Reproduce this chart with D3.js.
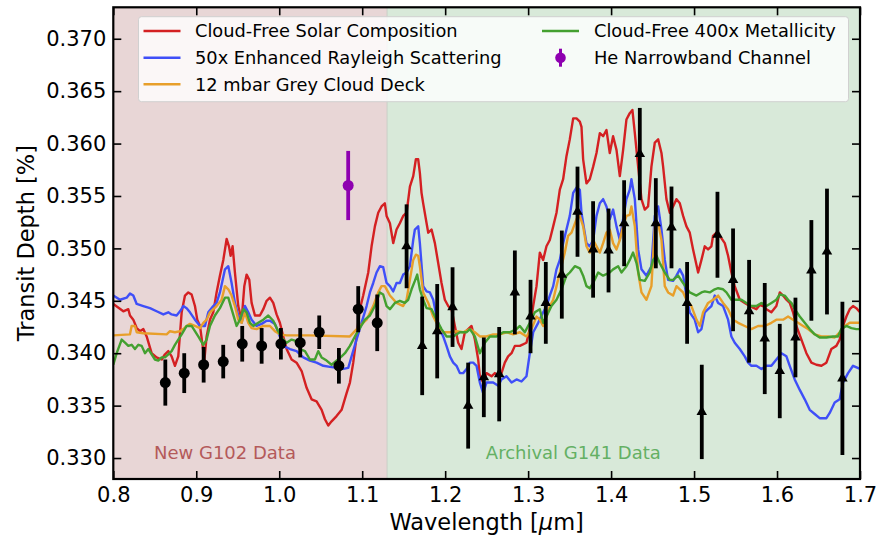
<!DOCTYPE html>
<html><head><meta charset="utf-8">
<script src="https://cdn.jsdelivr.net/npm/d3@7"></script>
<style>body{margin:0;background:#fff}svg{display:block}</style>
</head><body>
<svg id="chart" width="881" height="540"></svg>
<script>
// ---------------- DATA ----------------
const xTicks = [0.8, 0.9, 1.0, 1.1, 1.2, 1.3, 1.4, 1.5, 1.6, 1.7];
const yTicks = [0.330, 0.335, 0.340, 0.345, 0.350, 0.355, 0.360, 0.365, 0.370];

const g102Wave  = [0.8627, 0.8855, 0.9089, 0.9325, 0.9554, 0.9788, 1.0020, 1.0253, 1.0482, 1.0719, 1.0952, 1.1181];
const g102Depth = [0.3372, 0.3381, 0.3389, 0.3392, 0.3409, 0.3407, 0.3409, 0.3410, 0.3420, 0.3388, 0.3442, 0.3429];
const g102Err   = [0.0022, 0.0019, 0.0017, 0.0016, 0.0017, 0.0017, 0.0015, 0.0014, 0.0016, 0.0017, 0.0022, 0.0027];

const g141Wave  = [1.1535,1.1723,1.1904,1.2089,1.2277,1.2466,1.2651,1.2840,1.3029,1.3213,1.3406,1.3595,1.3783,1.3969,1.4157,1.4346,1.4539,1.4728,1.4916,1.5093,1.5282,1.5470,1.5663,1.5852,1.6033,1.6222,1.6414,1.6602,1.6788];
const g141Depth = [0.3502,0.3407,0.3421,0.3444,0.3350,0.3377,0.3380,0.3458,0.3435,0.3448,0.3475,0.3535,0.3499,0.3498,0.3524,0.3590,0.3524,0.3520,0.3448,0.3344,0.3513,0.3470,0.3440,0.3414,0.3383,0.3415,0.3479,0.3497,0.3376];
const g141Err   = [0.0040,0.0047,0.0045,0.0038,0.0041,0.0038,0.0045,0.0040,0.0035,0.0039,0.0042,0.0043,0.0046,0.0040,0.0041,0.0044,0.0043,0.0039,0.0039,0.0045,0.0041,0.0049,0.0049,0.0053,0.0045,0.0038,0.0048,0.0060,0.0073];

const heWave = [1.0831], heDepth = [0.3560], heErr = [0.0033];

const solarModel = [[0.8000,0.3447],[0.8121,0.3440],[0.8181,0.3442],[0.8201,0.3436],[0.8241,0.3432],[0.8282,0.3424],[0.8322,0.3421],[0.8362,0.3423],[0.8402,0.3416],[0.8462,0.3400],[0.8522,0.3396],[0.8583,0.3394],[0.8623,0.3399],[0.8663,0.3402],[0.8703,0.3397],[0.8743,0.3388],[0.8783,0.3397],[0.8824,0.3439],[0.8864,0.3455],[0.8904,0.3458],[0.8944,0.3456],[0.8984,0.3445],[0.9012,0.3432],[0.9045,0.3426],[0.9077,0.3407],[0.9097,0.3393],[0.9125,0.3416],[0.9165,0.3432],[0.9205,0.3439],[0.9245,0.3458],[0.9285,0.3474],[0.9326,0.3489],[0.9366,0.3509],[0.9394,0.3502],[0.9414,0.3493],[0.9438,0.3502],[0.9466,0.3477],[0.9506,0.3445],[0.9547,0.3432],[0.9579,0.3464],[0.9607,0.3475],[0.9639,0.3470],[0.9667,0.3448],[0.9707,0.3436],[0.9767,0.3436],[0.9808,0.3442],[0.9848,0.3450],[0.9888,0.3453],[0.9928,0.3448],[0.9968,0.3437],[1.0008,0.3429],[1.0049,0.3416],[1.0089,0.3404],[1.0149,0.3394],[1.0209,0.3391],[1.0270,0.3383],[1.0330,0.3367],[1.0390,0.3356],[1.0450,0.3354],[1.0511,0.3346],[1.0551,0.3337],[1.0591,0.3331],[1.0631,0.3335],[1.0691,0.3340],[1.0752,0.3346],[1.0812,0.3362],[1.0852,0.3372],[1.0892,0.3391],[1.0932,0.3416],[1.0972,0.3442],[1.1012,0.3455],[1.1073,0.3477],[1.1113,0.3502],[1.1153,0.3521],[1.1193,0.3534],[1.1233,0.3540],[1.1273,0.3543],[1.1294,0.3531],[1.1334,0.3524],[1.1374,0.3505],[1.1414,0.3518],[1.1454,0.3524],[1.1494,0.3531],[1.1535,0.3534],[1.1575,0.3559],[1.1615,0.3569],[1.1647,0.3585],[1.1675,0.3585],[1.1695,0.3572],[1.1715,0.3553],[1.1735,0.3543],[1.1776,0.3524],[1.1796,0.3515],[1.1836,0.3518],[1.1876,0.3505],[1.1916,0.3486],[1.1956,0.3467],[1.1996,0.3451],[1.2037,0.3445],[1.2077,0.3442],[1.2117,0.3426],[1.2157,0.3410],[1.2197,0.3404],[1.2237,0.3420],[1.2278,0.3423],[1.2318,0.3426],[1.2358,0.3413],[1.2398,0.3394],[1.2418,0.3378],[1.2458,0.3372],[1.2498,0.3381],[1.2559,0.3378],[1.2599,0.3381],[1.2639,0.3378],[1.2679,0.3381],[1.2719,0.3391],[1.2759,0.3397],[1.2800,0.3400],[1.2840,0.3407],[1.2900,0.3407],[1.2980,0.3410],[1.3020,0.3423],[1.3061,0.3445],[1.3101,0.3464],[1.3141,0.3496],[1.3181,0.3489],[1.3221,0.3502],[1.3261,0.3508],[1.3302,0.3521],[1.3342,0.3534],[1.3382,0.3556],[1.3422,0.3566],[1.3462,0.3588],[1.3502,0.3604],[1.3543,0.3624],[1.3583,0.3624],[1.3623,0.3621],[1.3643,0.3616],[1.3663,0.3585],[1.3703,0.3562],[1.3743,0.3566],[1.3784,0.3578],[1.3824,0.3591],[1.3864,0.3610],[1.3904,0.3607],[1.3944,0.3613],[1.3984,0.3591],[1.4024,0.3607],[1.4065,0.3594],[1.4105,0.3569],[1.4145,0.3594],[1.4185,0.3623],[1.4225,0.3629],[1.4257,0.3632],[1.4286,0.3610],[1.4326,0.3578],[1.4366,0.3547],[1.4406,0.3537],[1.4446,0.3540],[1.4486,0.3578],[1.4527,0.3601],[1.4567,0.3604],[1.4607,0.3591],[1.4627,0.3578],[1.4667,0.3547],[1.4707,0.3534],[1.4747,0.3540],[1.4788,0.3547],[1.4828,0.3543],[1.4868,0.3531],[1.4908,0.3521],[1.4948,0.3515],[1.4988,0.3499],[1.5049,0.3477],[1.5089,0.3489],[1.5129,0.3502],[1.5169,0.3499],[1.5209,0.3502],[1.5229,0.3512],[1.5270,0.3515],[1.5310,0.3512],[1.5370,0.3505],[1.5410,0.3493],[1.5450,0.3477],[1.5490,0.3464],[1.5551,0.3451],[1.5611,0.3448],[1.5671,0.3445],[1.5751,0.3442],[1.5792,0.3446],[1.5832,0.3445],[1.5872,0.3442],[1.5932,0.3439],[1.5992,0.3445],[1.6033,0.3458],[1.6073,0.3455],[1.6113,0.3451],[1.6153,0.3448],[1.6193,0.3439],[1.6233,0.3426],[1.6294,0.3413],[1.6354,0.3400],[1.6414,0.3391],[1.6474,0.3389],[1.6535,0.3388],[1.6595,0.3391],[1.6655,0.3404],[1.6715,0.3407],[1.6755,0.3413],[1.6795,0.3426],[1.6836,0.3435],[1.6876,0.3442],[1.6916,0.3445],[1.6956,0.3443],[1.7000,0.3439]];

const rayleighModel = [[0.8000,0.3455],[0.8081,0.3451],[0.8161,0.3453],[0.8201,0.3457],[0.8241,0.3455],[0.8282,0.3447],[0.8362,0.3445],[0.8442,0.3443],[0.8522,0.3440],[0.8603,0.3437],[0.8663,0.3439],[0.8703,0.3437],[0.8763,0.3436],[0.8804,0.3440],[0.8844,0.3445],[0.8884,0.3443],[0.8924,0.3439],[0.8984,0.3432],[0.9045,0.3426],[0.9105,0.3426],[0.9145,0.3439],[0.9205,0.3445],[0.9245,0.3448],[0.9285,0.3458],[0.9346,0.3480],[0.9386,0.3483],[0.9426,0.3467],[0.9466,0.3448],[0.9506,0.3436],[0.9547,0.3429],[0.9587,0.3445],[0.9627,0.3439],[0.9667,0.3432],[0.9727,0.3426],[0.9788,0.3428],[0.9848,0.3431],[0.9888,0.3431],[0.9948,0.3428],[0.9988,0.3420],[1.0049,0.3407],[1.0129,0.3404],[1.0209,0.3402],[1.0290,0.3396],[1.0370,0.3393],[1.0450,0.3391],[1.0531,0.3388],[1.0611,0.3387],[1.0691,0.3386],[1.0772,0.3385],[1.0832,0.3386],[1.0872,0.3397],[1.0932,0.3413],[1.0992,0.3429],[1.1053,0.3445],[1.1093,0.3458],[1.1133,0.3467],[1.1173,0.3477],[1.1213,0.3483],[1.1253,0.3482],[1.1294,0.3467],[1.1334,0.3464],[1.1374,0.3459],[1.1414,0.3467],[1.1454,0.3467],[1.1494,0.3475],[1.1535,0.3477],[1.1575,0.3483],[1.1615,0.3508],[1.1635,0.3518],[1.1675,0.3521],[1.1695,0.3505],[1.1735,0.3464],[1.1776,0.3459],[1.1816,0.3458],[1.1856,0.3451],[1.1896,0.3435],[1.1936,0.3423],[1.1976,0.3416],[1.2016,0.3407],[1.2057,0.3397],[1.2097,0.3391],[1.2137,0.3388],[1.2177,0.3381],[1.2217,0.3381],[1.2258,0.3385],[1.2298,0.3391],[1.2338,0.3391],[1.2378,0.3388],[1.2418,0.3372],[1.2458,0.3362],[1.2498,0.3372],[1.2579,0.3372],[1.2639,0.3369],[1.2679,0.3375],[1.2739,0.3378],[1.2800,0.3372],[1.2860,0.3375],[1.2920,0.3373],[1.2980,0.3378],[1.3020,0.3400],[1.3061,0.3420],[1.3121,0.3429],[1.3181,0.3439],[1.3221,0.3445],[1.3261,0.3455],[1.3302,0.3464],[1.3342,0.3480],[1.3382,0.3489],[1.3422,0.3505],[1.3462,0.3518],[1.3502,0.3531],[1.3543,0.3553],[1.3583,0.3558],[1.3623,0.3556],[1.3643,0.3534],[1.3663,0.3524],[1.3703,0.3505],[1.3743,0.3502],[1.3784,0.3508],[1.3824,0.3531],[1.3864,0.3543],[1.3904,0.3547],[1.3944,0.3540],[1.3984,0.3528],[1.4024,0.3537],[1.4065,0.3521],[1.4105,0.3508],[1.4145,0.3528],[1.4185,0.3547],[1.4225,0.3556],[1.4245,0.3566],[1.4286,0.3547],[1.4326,0.3499],[1.4366,0.3480],[1.4426,0.3474],[1.4486,0.3483],[1.4527,0.3531],[1.4567,0.3540],[1.4607,0.3518],[1.4647,0.3489],[1.4687,0.3470],[1.4747,0.3469],[1.4788,0.3474],[1.4828,0.3480],[1.4868,0.3474],[1.4908,0.3455],[1.4948,0.3439],[1.5008,0.3432],[1.5049,0.3420],[1.5089,0.3423],[1.5129,0.3439],[1.5169,0.3442],[1.5209,0.3445],[1.5249,0.3455],[1.5290,0.3448],[1.5350,0.3445],[1.5410,0.3432],[1.5450,0.3416],[1.5490,0.3410],[1.5551,0.3404],[1.5611,0.3397],[1.5651,0.3391],[1.5691,0.3388],[1.5751,0.3388],[1.5812,0.3385],[1.5872,0.3388],[1.5932,0.3388],[1.5992,0.3394],[1.6053,0.3400],[1.6113,0.3397],[1.6153,0.3388],[1.6213,0.3375],[1.6274,0.3365],[1.6334,0.3356],[1.6394,0.3346],[1.6454,0.3342],[1.6514,0.3338],[1.6595,0.3338],[1.6635,0.3343],[1.6695,0.3353],[1.6755,0.3356],[1.6795,0.3372],[1.6856,0.3381],[1.6916,0.3388],[1.7000,0.3385]];

const greyCloudModel = [[0.8000,0.3417],[0.8201,0.3418],[0.8221,0.3426],[0.8261,0.3426],[0.8282,0.3420],[0.8362,0.3419],[0.8643,0.3418],[0.8683,0.3421],[0.8743,0.3420],[0.8804,0.3421],[0.8844,0.3423],[0.8884,0.3426],[0.8924,0.3428],[0.8984,0.3426],[0.9045,0.3424],[0.9085,0.3429],[0.9125,0.3432],[0.9165,0.3439],[0.9245,0.3445],[0.9306,0.3451],[0.9346,0.3464],[0.9386,0.3461],[0.9426,0.3455],[0.9466,0.3445],[0.9506,0.3432],[0.9547,0.3429],[0.9587,0.3439],[0.9627,0.3429],[0.9667,0.3424],[0.9727,0.3423],[0.9808,0.3426],[0.9888,0.3426],[0.9948,0.3421],[1.0008,0.3418],[1.0089,0.3417],[1.0370,0.3417],[1.0852,0.3416],[1.0912,0.3421],[1.0972,0.3426],[1.1053,0.3432],[1.1133,0.3445],[1.1193,0.3458],[1.1233,0.3464],[1.1273,0.3464],[1.1314,0.3458],[1.1334,0.3455],[1.1414,0.3448],[1.1494,0.3445],[1.1535,0.3451],[1.1575,0.3470],[1.1615,0.3489],[1.1647,0.3494],[1.1675,0.3493],[1.1695,0.3483],[1.1735,0.3458],[1.1796,0.3448],[1.1856,0.3435],[1.1916,0.3426],[1.1976,0.3420],[1.2057,0.3420],[1.2137,0.3421],[1.2217,0.3420],[1.2298,0.3423],[1.2358,0.3420],[1.2418,0.3416],[1.2498,0.3416],[1.2579,0.3418],[1.2659,0.3418],[1.2739,0.3420],[1.2820,0.3418],[1.2900,0.3420],[1.2980,0.3416],[1.3041,0.3423],[1.3101,0.3435],[1.3141,0.3432],[1.3181,0.3426],[1.3221,0.3435],[1.3261,0.3445],[1.3302,0.3451],[1.3342,0.3464],[1.3382,0.3477],[1.3442,0.3496],[1.3482,0.3512],[1.3523,0.3515],[1.3583,0.3528],[1.3623,0.3531],[1.3663,0.3521],[1.3703,0.3502],[1.3743,0.3496],[1.3784,0.3508],[1.3824,0.3502],[1.3864,0.3496],[1.3904,0.3505],[1.3944,0.3515],[1.3984,0.3518],[1.4024,0.3505],[1.4065,0.3499],[1.4105,0.3508],[1.4145,0.3521],[1.4185,0.3531],[1.4225,0.3532],[1.4245,0.3540],[1.4286,0.3521],[1.4326,0.3477],[1.4366,0.3458],[1.4426,0.3451],[1.4486,0.3464],[1.4527,0.3521],[1.4567,0.3524],[1.4607,0.3508],[1.4647,0.3464],[1.4687,0.3458],[1.4747,0.3455],[1.4788,0.3464],[1.4828,0.3461],[1.4868,0.3458],[1.4908,0.3451],[1.4968,0.3445],[1.5029,0.3432],[1.5069,0.3426],[1.5109,0.3439],[1.5169,0.3448],[1.5229,0.3451],[1.5290,0.3455],[1.5350,0.3448],[1.5410,0.3442],[1.5470,0.3432],[1.5531,0.3429],[1.5611,0.3426],[1.5691,0.3423],[1.5771,0.3426],[1.5852,0.3426],[1.5932,0.3429],[1.5992,0.3432],[1.6073,0.3432],[1.6133,0.3435],[1.6193,0.3432],[1.6253,0.3429],[1.6314,0.3426],[1.6374,0.3423],[1.6454,0.3418],[1.6535,0.3416],[1.6615,0.3416],[1.6695,0.3415],[1.6755,0.3420],[1.6816,0.3426],[1.6876,0.3429],[1.6936,0.3429],[1.7000,0.3429]];

const metalModel = [[0.8000,0.3389],[0.8041,0.3400],[0.8101,0.3413],[0.8141,0.3410],[0.8181,0.3407],[0.8221,0.3408],[0.8261,0.3404],[0.8302,0.3408],[0.8342,0.3407],[0.8382,0.3400],[0.8422,0.3404],[0.8462,0.3399],[0.8502,0.3394],[0.8542,0.3393],[0.8583,0.3396],[0.8623,0.3396],[0.8663,0.3399],[0.8703,0.3402],[0.8743,0.3408],[0.8783,0.3413],[0.8824,0.3418],[0.8884,0.3426],[0.8944,0.3426],[0.8984,0.3421],[0.9024,0.3416],[0.9085,0.3408],[0.9125,0.3413],[0.9165,0.3426],[0.9225,0.3436],[0.9285,0.3443],[0.9346,0.3453],[0.9386,0.3453],[0.9426,0.3442],[0.9486,0.3426],[0.9526,0.3432],[0.9567,0.3442],[0.9607,0.3439],[0.9647,0.3429],[0.9687,0.3426],[0.9747,0.3429],[0.9808,0.3432],[0.9868,0.3436],[0.9928,0.3431],[0.9988,0.3421],[1.0028,0.3415],[1.0089,0.3410],[1.0149,0.3413],[1.0189,0.3412],[1.0249,0.3404],[1.0310,0.3402],[1.0370,0.3394],[1.0430,0.3394],[1.0470,0.3402],[1.0511,0.3396],[1.0571,0.3393],[1.0631,0.3389],[1.0691,0.3393],[1.0752,0.3397],[1.0792,0.3400],[1.0852,0.3407],[1.0912,0.3416],[1.0972,0.3424],[1.1033,0.3432],[1.1093,0.3436],[1.1153,0.3445],[1.1213,0.3458],[1.1253,0.3456],[1.1294,0.3445],[1.1334,0.3442],[1.1394,0.3448],[1.1454,0.3450],[1.1514,0.3448],[1.1555,0.3451],[1.1595,0.3461],[1.1635,0.3469],[1.1663,0.3475],[1.1695,0.3461],[1.1735,0.3451],[1.1776,0.3443],[1.1836,0.3442],[1.1896,0.3432],[1.1956,0.3423],[1.2016,0.3416],[1.2097,0.3416],[1.2177,0.3420],[1.2258,0.3420],[1.2298,0.3423],[1.2358,0.3416],[1.2418,0.3400],[1.2478,0.3410],[1.2539,0.3416],[1.2619,0.3416],[1.2699,0.3420],[1.2780,0.3420],[1.2860,0.3423],[1.2900,0.3426],[1.2960,0.3420],[1.3020,0.3429],[1.3081,0.3439],[1.3141,0.3442],[1.3181,0.3429],[1.3221,0.3435],[1.3281,0.3445],[1.3342,0.3451],[1.3402,0.3461],[1.3462,0.3474],[1.3502,0.3477],[1.3563,0.3483],[1.3623,0.3481],[1.3663,0.3474],[1.3703,0.3464],[1.3743,0.3462],[1.3784,0.3467],[1.3844,0.3477],[1.3904,0.3474],[1.3984,0.3477],[1.4024,0.3480],[1.4085,0.3483],[1.4125,0.3477],[1.4185,0.3483],[1.4225,0.3489],[1.4265,0.3496],[1.4306,0.3486],[1.4346,0.3470],[1.4406,0.3469],[1.4466,0.3477],[1.4506,0.3489],[1.4547,0.3493],[1.4587,0.3486],[1.4647,0.3477],[1.4707,0.3470],[1.4747,0.3470],[1.4808,0.3474],[1.4868,0.3467],[1.4948,0.3458],[1.5029,0.3455],[1.5089,0.3458],[1.5129,0.3459],[1.5189,0.3458],[1.5249,0.3461],[1.5290,0.3462],[1.5350,0.3461],[1.5390,0.3458],[1.5450,0.3451],[1.5511,0.3451],[1.5571,0.3451],[1.5631,0.3448],[1.5691,0.3445],[1.5751,0.3445],[1.5812,0.3448],[1.5872,0.3445],[1.5932,0.3448],[1.5992,0.3451],[1.6033,0.3456],[1.6093,0.3455],[1.6133,0.3451],[1.6173,0.3448],[1.6213,0.3442],[1.6274,0.3435],[1.6334,0.3429],[1.6394,0.3423],[1.6454,0.3418],[1.6514,0.3415],[1.6595,0.3415],[1.6675,0.3416],[1.6735,0.3416],[1.6775,0.3423],[1.6836,0.3426],[1.6896,0.3424],[1.6956,0.3423],[1.7000,0.3423]];

const modelNames  = ["Cloud-Free Solar Composition", "50x Enhanced Rayleigh Scattering", "12 mbar Grey Cloud Deck", "Cloud-Free 400x Metallicity"];
const modelColors = ["#d42022", "#3f4ff8", "#e89f2a", "#44a030"];
const heLabel = "He Narrowband Channel";
const g102Range = [0.8, 1.13];
const g141Range = [1.13, 1.7];

// ---------------- CHART ----------------
const svg = d3.select("#chart");
const L = 113.3, R = 860, T = 7.3, B = 479;
const x = d3.scaleLinear().domain([0.8, 1.7]).range([L, R]);
const y = d3.scaleLinear().domain([0.328, 0.373]).range([B, T]);
const FONT = "DejaVu Sans, sans-serif";

svg.append("rect").attr("width", 881).attr("height", 540).attr("fill", "#fff");

svg.append("defs").append("clipPath").attr("id", "clip")
  .append("rect").attr("x", L).attr("y", T).attr("width", R - L).attr("height", B - T);

// shaded spans
svg.append("rect").attr("x", x(g102Range[0])).attr("y", T)
  .attr("width", x(g102Range[1]) - x(g102Range[0])).attr("height", B - T).attr("fill", "#e8d6d6");
svg.append("rect").attr("x", x(g141Range[0])).attr("y", T)
  .attr("width", x(g141Range[1]) - x(g141Range[0])).attr("height", B - T).attr("fill", "#d8e9d9");
svg.append("line").attr("x1", x(g141Range[0])).attr("x2", x(g141Range[0]))
  .attr("y1", T).attr("y2", B).attr("stroke", "#c9cfc6").attr("stroke-width", 1);

// region labels
svg.append("text").attr("x", x(0.9346)).attr("y", 459).attr("text-anchor", "middle")
  .attr("font-family", FONT).attr("font-size", 18).attr("fill", "#b45a5a").text("New G102 Data");
svg.append("text").attr("x", x(1.3545)).attr("y", 459).attr("text-anchor", "middle")
  .attr("font-family", FONT).attr("font-size", 18).attr("fill", "#64b064").text("Archival G141 Data");

// model lines
const line = d3.line().x(d => x(d[0])).y(d => y(d[1]));
const gLines = svg.append("g").attr("clip-path", "url(#clip)");
[solarModel, rayleighModel, greyCloudModel, metalModel].forEach((m, i) => {
  gLines.append("path").datum(m).attr("d", line).attr("fill", "none")
    .attr("stroke", modelColors[i]).attr("stroke-width", 2.4).attr("stroke-linejoin", "round");
});

// data: G102 circles
const gData = svg.append("g");
g102Wave.forEach((w, i) => {
  gData.append("line").attr("x1", x(w)).attr("x2", x(w))
    .attr("y1", y(g102Depth[i] - g102Err[i])).attr("y2", y(g102Depth[i] + g102Err[i]))
    .attr("stroke", "#000").attr("stroke-width", 3.8);
  gData.append("circle").attr("cx", x(w)).attr("cy", y(g102Depth[i])).attr("r", 5.5).attr("fill", "#000");
});
// G141 triangles
const tri = d3.symbol().type(d3.symbolTriangle).size(48);
g141Wave.forEach((w, i) => {
  gData.append("line").attr("x1", x(w)).attr("x2", x(w))
    .attr("y1", y(g141Depth[i] - g141Err[i])).attr("y2", y(g141Depth[i] + g141Err[i]))
    .attr("stroke", "#000").attr("stroke-width", 3.8);
  gData.append("path").attr("d", tri()).attr("transform", `translate(${x(w)},${y(g141Depth[i])})`).attr("fill", "#000");
});
// He channel
heWave.forEach((w, i) => {
  gData.append("line").attr("x1", x(w)).attr("x2", x(w))
    .attr("y1", y(heDepth[i] - heErr[i])).attr("y2", y(heDepth[i] + heErr[i]))
    .attr("stroke", "#8e00b0").attr("stroke-width", 3.8);
  gData.append("circle").attr("cx", x(w)).attr("cy", y(heDepth[i])).attr("r", 5.5).attr("fill", "#8e00b0");
});

// axes with inward ticks
function styleAxis(g) {
  g.select(".domain").remove();
  g.selectAll(".tick line").attr("stroke", "#000").attr("stroke-width", 1.6);
  g.selectAll(".tick text").attr("font-family", FONT).attr("font-size", 21).attr("fill", "#000");
}
svg.append("g").attr("transform", `translate(0,${B})`)
  .call(d3.axisBottom(x).tickValues(xTicks).tickFormat(d3.format(".1f")).tickSize(-8).tickPadding(8))
  .call(styleAxis);
svg.append("g").attr("transform", `translate(0,${T})`)
  .call(d3.axisTop(x).tickValues(xTicks).tickFormat("").tickSize(-8))
  .call(styleAxis);
svg.append("g").attr("transform", `translate(${L},0)`)
  .call(d3.axisLeft(y).tickValues(yTicks).tickFormat(d3.format(".3f")).tickSize(-8).tickPadding(7))
  .call(styleAxis);
svg.append("g").attr("transform", `translate(${R},0)`)
  .call(d3.axisRight(y).tickValues(yTicks).tickFormat("").tickSize(-8))
  .call(styleAxis);

// frame
svg.append("rect").attr("x", L).attr("y", T).attr("width", R - L).attr("height", B - T)
  .attr("fill", "none").attr("stroke", "#000").attr("stroke-width", 2.2);

// axis titles
svg.append("text").attr("x", (L + R) / 2).attr("y", 530).attr("text-anchor", "middle")
  .attr("font-family", FONT).attr("font-size", 22.5).attr("fill", "#000")
  .call(t => {
    t.append("tspan").text("Wavelength [");
    t.append("tspan").attr("font-style", "italic").text("μ");
    t.append("tspan").text("m]");
  });
svg.append("text").attr("transform", `translate(34,${(T + B) / 2}) rotate(-90)`).attr("text-anchor", "middle")
  .attr("font-family", FONT).attr("font-size", 22.5).attr("fill", "#000").text("Transit Depth [%]");

// legend
const lg = svg.append("g");
lg.append("rect").attr("x", 138.5).attr("y", 16.7).attr("width", 710).attr("height", 85).attr("rx", 3)
  .attr("fill", "#fff").attr("fill-opacity", 0.8).attr("stroke", "#d0d0d0").attr("stroke-width", 1);
const rowY = [31, 57.7, 84.3];
const legendItems = [
  {col: 0, row: 0, i: 0}, {col: 0, row: 1, i: 1}, {col: 0, row: 2, i: 2}, {col: 1, row: 0, i: 3}
];
const colX = [143.5, 542];
const colTextX = [195, 594];
legendItems.forEach(it => {
  lg.append("line").attr("x1", colX[it.col]).attr("x2", colX[it.col] + 37)
    .attr("y1", rowY[it.row]).attr("y2", rowY[it.row])
    .attr("stroke", modelColors[it.i]).attr("stroke-width", 2.4);
  lg.append("text").attr("x", colTextX[it.col]).attr("y", rowY[it.row]).attr("dy", "0.36em")
    .attr("font-family", FONT).attr("font-size", 17.8).attr("fill", "#000").text(modelNames[it.i]);
});
lg.append("line").attr("x1", colX[1] + 18.5).attr("x2", colX[1] + 18.5)
  .attr("y1", rowY[1] - 9).attr("y2", rowY[1] + 9).attr("stroke", "#8e00b0").attr("stroke-width", 3);
lg.append("circle").attr("cx", colX[1] + 18.5).attr("cy", rowY[1]).attr("r", 5.3).attr("fill", "#8e00b0");
lg.append("text").attr("x", colTextX[1]).attr("y", rowY[1]).attr("dy", "0.36em")
  .attr("font-family", FONT).attr("font-size", 17.8).attr("fill", "#000").text(heLabel);
</script>
</body></html>
